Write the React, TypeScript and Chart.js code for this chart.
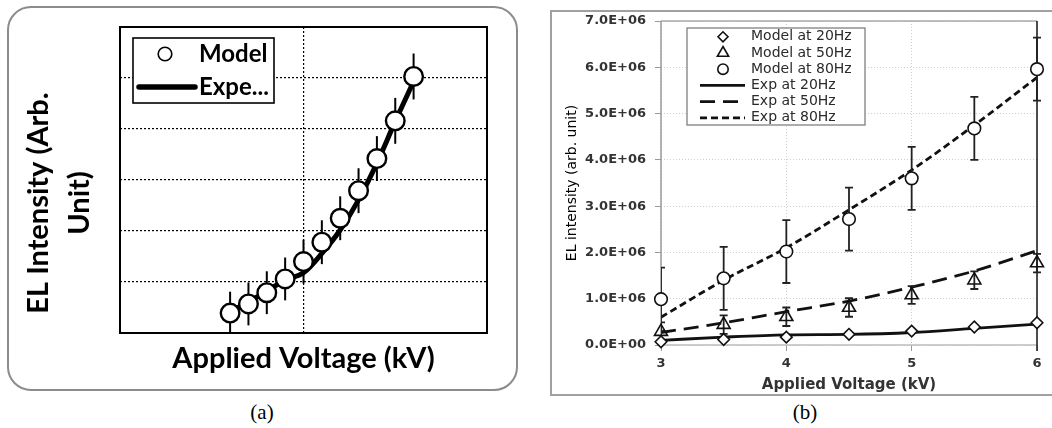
import React, { useEffect, useRef } from "react";
import { Chart, registerables } from "chart.js";
import { drawPoint } from "chart.js/helpers";

Chart.register(...registerables);

// ---------- Panel (a) data ----------
const A_VOLTAGE = [3, 3.5, 4, 4.5, 5, 5.5, 6, 6.5, 7, 7.5, 8];
const A_MODEL = [0.39, 0.57, 0.79, 1.06, 1.4, 1.78, 2.25, 2.79, 3.42, 4.16, 5.03];
const A_MODEL_ERR = [0.42, 0.42, 0.42, 0.42, 0.43, 0.43, 0.43, 0.44, 0.44, 0.45, 0.45];
const A_EXP = [0.42, 0.61, 0.82, 1.04, 1.18, 1.56, 2.02, 2.61, 3.33, 4.15, 4.93];
const A_LABELS = ["Model", "Expe..."];
const A_X_TITLE = "Applied Voltage (kV)";
const A_Y_TITLE = ["EL Intensity (Arb.", "Unit)"];
const A_CAPTION = "(a)";

// ---------- Panel (b) data ----------
const B_VOLTAGE = [3, 3.5, 4, 4.5, 5, 5.5, 6];
const B_MODEL_20 = [0.07e6, 0.12e6, 0.17e6, 0.23e6, 0.3e6, 0.39e6, 0.48e6];
const B_MODEL_50 = [0.29e6, 0.44e6, 0.61e6, 0.81e6, 1.08e6, 1.4e6, 1.77e6];
const B_MODEL_80 = [0.99e6, 1.44e6, 2.02e6, 2.72e6, 3.6e6, 4.68e6, 5.96e6];
const B_ERR_50 = [0.2e6, 0.2e6, 0.2e6, 0.2e6, 0.19e6, 0.19e6, 0.2e6];
const B_ERR_80 = [0.68e6, 0.68e6, 0.68e6, 0.68e6, 0.68e6, 0.68e6, 0.68e6];
const B_EXP_20 = [0.1e6, 0.17e6, 0.22e6, 0.23e6, 0.27e6, 0.36e6, 0.45e6];
const B_EXP_50 = [0.27e6, 0.48e6, 0.72e6, 0.95e6, 1.25e6, 1.6e6, 2.04e6];
const B_EXP_80 = [0.6e6, 1.4e6, 2.1e6, 2.92e6, 3.78e6, 4.75e6, 5.78e6];
const B_LABELS = ["Model at 20Hz", "Model at 50Hz", "Model at 80Hz", "Exp at 20Hz", "Exp at 50Hz", "Exp at 80Hz"];
const B_X_TICKS = ["3", "4", "5", "6"];
const B_Y_TICKS = ["0.0E+00", "1.0E+06", "2.0E+06", "3.0E+06", "4.0E+06", "5.0E+06", "6.0E+06", "7.0E+06"];
const B_X_TITLE = "Applied Voltage (kV)";
const B_Y_TITLE = "EL intensity (arb. unit)";
const B_CAPTION = "(b)";

const toXY = (xs: number[], ys: number[]) => xs.map((x, i) => ({ x, y: ys[i] }));

function drawErrorBars(chart: any, dsIndex: number, errors: number[], capHalf: number, width: number, color: string) {
  const meta = chart.getDatasetMeta(dsIndex);
  const ds = chart.data.datasets[dsIndex];
  const yScale = chart.scales[meta.yAxisID];
  const ctx = chart.ctx;
  const ca = chart.chartArea;
  ctx.save();
  ctx.beginPath();
  ctx.rect(ca.left, 0, chart.width - ca.left, chart.height);
  ctx.clip();
  ctx.strokeStyle = color;
  ctx.lineWidth = width;
  ctx.setLineDash([]);
  meta.data.forEach((el: any, i: number) => {
    const v = ds.data[i].y;
    const e = errors[i];
    const x = el.x;
    const yt = yScale.getPixelForValue(v + e);
    const yb = yScale.getPixelForValue(Math.max(v - e, yScale.min));
    ctx.beginPath();
    ctx.moveTo(x, yt);
    ctx.lineTo(x, yb);
    if (capHalf > 0) {
      ctx.moveTo(x - capHalf, yt);
      ctx.lineTo(x + capHalf, yt);
      if (v - e >= yScale.min) {
        ctx.moveTo(x - capHalf, yb);
        ctx.lineTo(x + capHalf, yb);
      }
    }
    ctx.stroke();
  });
  ctx.restore();
}

interface LegendOpts {
  dx: number; dy: number; w: number; h: number;
  border: string; borderWidth: number;
  firstRow: number; rowGap: number;
  symbolX: number; symbolRadius: number[]; symbolBorder: number;
  lineX1: number; lineX2: number; lineWidth: number[];
  textX: number; font: string; textColor: string;
}

function drawLegend(chart: any, o: LegendOpts) {
  const ctx = chart.ctx;
  const ca = chart.chartArea;
  const x0 = ca.left + o.dx;
  const y0 = ca.top + o.dy;
  ctx.save();
  ctx.fillStyle = "#ffffff";
  ctx.fillRect(x0, y0, o.w, o.h);
  ctx.strokeStyle = o.border;
  ctx.lineWidth = o.borderWidth;
  ctx.strokeRect(x0, y0, o.w, o.h);
  chart.data.datasets.forEach((ds: any, i: number) => {
    const y = y0 + o.firstRow + i * o.rowGap;
    if (ds.showLine === false) {
      ctx.setLineDash([]);
      ctx.strokeStyle = ds.pointBorderColor;
      ctx.fillStyle = ds.pointBackgroundColor;
      ctx.lineWidth = o.symbolBorder;
      drawPoint(ctx, { pointStyle: ds.pointStyle, radius: o.symbolRadius[i], rotation: 0, borderWidth: o.symbolBorder } as any, x0 + o.symbolX, y);
    } else {
      ctx.setLineDash(ds.borderDash || []);
      ctx.strokeStyle = ds.borderColor;
      ctx.lineWidth = o.lineWidth[i];
      ctx.lineCap = ds.borderCapStyle || "butt";
      ctx.beginPath();
      ctx.moveTo(x0 + o.lineX1, y);
      ctx.lineTo(x0 + o.lineX2, y);
      ctx.stroke();
      ctx.setLineDash([]);
      ctx.lineCap = "butt";
    }
    ctx.fillStyle = o.textColor;
    ctx.font = o.font;
    ctx.textAlign = "left";
    ctx.textBaseline = "middle";
    ctx.fillText(ds.label, x0 + o.textX, y);
  });
  ctx.restore();
}

function makeChartA(canvas: HTMLCanvasElement) {
  const plugin = {
    id: "panelA",
    beforeDatasetsDraw(chart: any) {
      const { ctx, chartArea: ca } = chart;
      ctx.save();
      ctx.strokeStyle = "#000";
      ctx.lineWidth = 2;
      ctx.strokeRect(ca.left, ca.top, ca.right - ca.left, ca.bottom - ca.top);
      ctx.restore();
    },
    beforeDatasetDraw(chart: any, args: any) {
      if (args.index === 0) drawErrorBars(chart, 0, A_MODEL_ERR, 0, 2, "#000");
    },
    afterDraw(chart: any) {
      const ctx = chart.ctx;
      drawLegend(chart, {
        dx: 13, dy: 11, w: 141, h: 65, border: "#000", borderWidth: 1.6,
        firstRow: 16, rowGap: 33, symbolX: 32, symbolRadius: [6.8, 0], symbolBorder: 1.6,
        lineX1: 6, lineX2: 62, lineWidth: [0, 5.5], textX: 66,
        font: "bold 24px Lato", textColor: "#000",
      });
      ctx.save();
      ctx.font = "bold 29px Lato";
      ctx.fillStyle = "#000";
      ctx.textAlign = "center";
      ctx.textBaseline = "middle";
      ctx.translate(39, 203);
      ctx.rotate(-Math.PI / 2);
      A_Y_TITLE.forEach((line, i) => ctx.fillText(line, 0, i * 41));
      ctx.restore();
    },
  };
  return new Chart(canvas, {
    type: "line",
    data: {
      datasets: [
        {
          label: A_LABELS[0],
          data: toXY(A_VOLTAGE, A_MODEL),
          showLine: false,
          pointStyle: "circle",
          pointRadius: 9.3,
          pointBorderWidth: 2.4,
          pointBorderColor: "#000",
          pointBackgroundColor: "#fff",
          borderColor: "#000",
          backgroundColor: "#fff",
          clip: false,
        } as any,
        {
          label: A_LABELS[1],
          data: toXY(A_VOLTAGE, A_EXP),
          showLine: true,
          pointRadius: 0,
          borderColor: "#000",
          borderWidth: 5,
          borderCapStyle: "round",
          borderJoinStyle: "round",
          cubicInterpolationMode: "monotone",
          fill: false,
        } as any,
      ],
    },
    options: {
      responsive: false,
      animation: false,
      events: [],
      layout: { padding: { left: 0, top: 27, right: 43, bottom: 0 } },
      plugins: { legend: { display: false }, tooltip: { enabled: false } },
      scales: {
        x: {
          type: "linear",
          min: 0,
          max: 10,
          ticks: { display: false, stepSize: 5 },
          grid: { color: "#000", lineWidth: 1.2, drawTicks: false },
          border: { display: false, dash: [2, 2] },
          title: {
            display: true,
            text: A_X_TITLE,
            color: "#000",
            font: { family: "Lato", weight: "bold", size: 29 },
            padding: { top: 0, bottom: 24 },
          },
          afterFit: (s: any) => { s.height = 67; },
        },
        y: {
          type: "linear",
          min: 0,
          max: 6,
          ticks: { display: false, stepSize: 1 },
          grid: { color: "#000", lineWidth: 1.2, drawTicks: false },
          border: { display: false, dash: [2, 2] },
          afterFit: (s: any) => { s.width = 120; },
        },
      },
    } as any,
    plugins: [plugin],
  });
}

function makeChartB(canvas: HTMLCanvasElement) {
  const plugin = {
    id: "panelB",
    beforeDatasetsDraw(chart: any) {
      const { ctx, chartArea: ca } = chart;
      ctx.save();
      ctx.setLineDash([]);
      ctx.lineWidth = 1.3;
      ctx.strokeStyle = "#a8a8a8";
      ctx.beginPath(); ctx.moveTo(ca.left, ca.top); ctx.lineTo(ca.right, ca.top); ctx.stroke();
      ctx.strokeStyle = "#bdbdbd";
      ctx.beginPath(); ctx.moveTo(ca.left, ca.bottom); ctx.lineTo(ca.right, ca.bottom); ctx.stroke();
      ctx.strokeStyle = "#9a9a9a";
      ctx.lineWidth = 1.5;
      ctx.beginPath(); ctx.moveTo(ca.left, ca.top); ctx.lineTo(ca.left, ca.bottom); ctx.stroke();
      ctx.strokeStyle = "#222";
      ctx.lineWidth = 1.6;
      ctx.beginPath(); ctx.moveTo(ca.right, ca.top); ctx.lineTo(ca.right, ca.bottom + 6); ctx.stroke();
      ctx.restore();
    },
    beforeDatasetDraw(chart: any, args: any) {
      if (args.index === 2) {
        drawErrorBars(chart, 2, B_ERR_80, 4, 1.8, "#222");
        drawErrorBars(chart, 1, B_ERR_50, 4, 1.8, "#222");
      }
    },
    afterDraw(chart: any) {
      drawLegend(chart, {
        dx: 26, dy: 7, w: 178, h: 97, border: "#808080", borderWidth: 1.3,
        firstRow: 8.8, rowGap: 16.2, symbolX: 36, symbolRadius: [5, 6.5, 5.2, 0, 0, 0], symbolBorder: 1.6,
        lineX1: 13, lineX2: 58, lineWidth: [0, 0, 0, 2.8, 2.8, 2.8], textX: 64,
        font: '14px "DejaVu Sans"', textColor: "#2a2a2a",
      });
    },
  };
  const marker = (label: string, ys: number[], style: string, radius: number, fill: string) => ({
    label,
    data: toXY(B_VOLTAGE, ys),
    showLine: false,
    pointStyle: style,
    pointRadius: radius,
    pointBorderWidth: 1.6,
    pointBorderColor: "#111",
    pointBackgroundColor: fill,
    borderColor: "#111",
    backgroundColor: fill,
    clip: false,
  });
  const curve = (label: string, ys: number[], dash: number[]) => ({
    label,
    data: toXY(B_VOLTAGE, ys),
    showLine: true,
    pointRadius: 0,
    borderColor: "#111",
    borderWidth: 2.8,
    borderDash: dash,
    cubicInterpolationMode: "monotone",
    fill: false,
  });
  const labelFont = { family: "DejaVu Sans", weight: "bold", size: 13 };
  return new Chart(canvas, {
    type: "line",
    data: {
      datasets: [
        marker(B_LABELS[0], B_MODEL_20, "rectRot", 5.8, "#fff"),
        marker(B_LABELS[1], B_MODEL_50, "triangle", 7.5, "rgba(255,255,255,0)"),
        marker(B_LABELS[2], B_MODEL_80, "circle", 6.3, "#fff"),
        curve(B_LABELS[3], B_EXP_20, []),
        curve(B_LABELS[4], B_EXP_50, [15, 8]),
        curve(B_LABELS[5], B_EXP_80, [7, 4]),
      ] as any,
    },
    options: {
      responsive: false,
      animation: false,
      events: [],
      layout: { padding: { left: 0, top: 21, right: 15, bottom: 0 } },
      plugins: { legend: { display: false }, tooltip: { enabled: false } },
      scales: {
        x: {
          type: "linear",
          min: 3,
          max: 6,
          ticks: {
            stepSize: 1,
            padding: 5,
            color: "#333",
            font: { ...labelFont, size: 13 },
            callback: (_v: any, i: number) => B_X_TICKS[i],
          },
          grid: { color: "#cfcfcf", lineWidth: 1, tickColor: "#999", tickLength: 6 },
          border: { display: false, dash: [1, 2] },
          title: {
            display: true,
            text: B_X_TITLE,
            color: "#333",
            font: { family: "DejaVu Sans", weight: "bold", size: 15 },
            padding: { top: 0, bottom: 6 },
          },
          afterFit: (s: any) => { s.height = 55; },
        },
        y: {
          type: "linear",
          min: 0,
          max: 7e6,
          ticks: {
            stepSize: 1e6,
            padding: 9,
            color: "#333",
            font: labelFont,
            callback: (_v: any, i: number) => B_Y_TICKS[i],
          },
          grid: { color: "#cfcfcf", lineWidth: 1, tickColor: "#999", tickLength: 6 },
          border: { display: false, dash: [1, 2] },
          title: {
            display: true,
            text: B_Y_TITLE,
            color: "#000",
            font: { family: "DejaVu Sans", size: 14 },
            padding: { top: 14, bottom: 0 },
          },
          afterFit: (s: any) => { s.width = 111; },
        },
      },
    } as any,
    plugins: [plugin],
  });
}

const captionStyle = (cx: number): React.CSSProperties => ({
  position: "absolute",
  left: cx - 50,
  top: 400,
  width: 100,
  textAlign: "center",
  fontFamily: '"Liberation Serif", serif',
  fontSize: 21,
  lineHeight: "24px",
  color: "#000",
});

export default function App() {
  const refA = useRef<HTMLCanvasElement>(null);
  const refB = useRef<HTMLCanvasElement>(null);
  useEffect(() => {
    const a = makeChartA(refA.current!);
    const b = makeChartB(refB.current!);
    return () => {
      a.destroy();
      b.destroy();
    };
  }, []);
  return (
    <div style={{ position: "absolute", left: 0, top: 0, width: 1052, height: 428, overflow: "hidden", background: "#fff" }}>
      <div style={{ position: "absolute", left: 7, top: 6, width: 511, height: 385, border: "2px solid #8c8c8c", borderRadius: 24, boxSizing: "border-box" }} />
      <div style={{ position: "absolute", left: 550, top: 10, width: 520, height: 386, border: "2px solid #a0a0a0", boxSizing: "border-box" }} />
      <canvas ref={refA} width={530} height={400} style={{ position: "absolute", left: 0, top: 0, width: 530, height: 400 }} />
      <canvas ref={refB} width={502} height={400} style={{ position: "absolute", left: 550, top: 0, width: 502, height: 400 }} />
      <div style={captionStyle(262)}>{A_CAPTION}</div>
      <div style={captionStyle(805)}>{B_CAPTION}</div>
    </div>
  );
}
